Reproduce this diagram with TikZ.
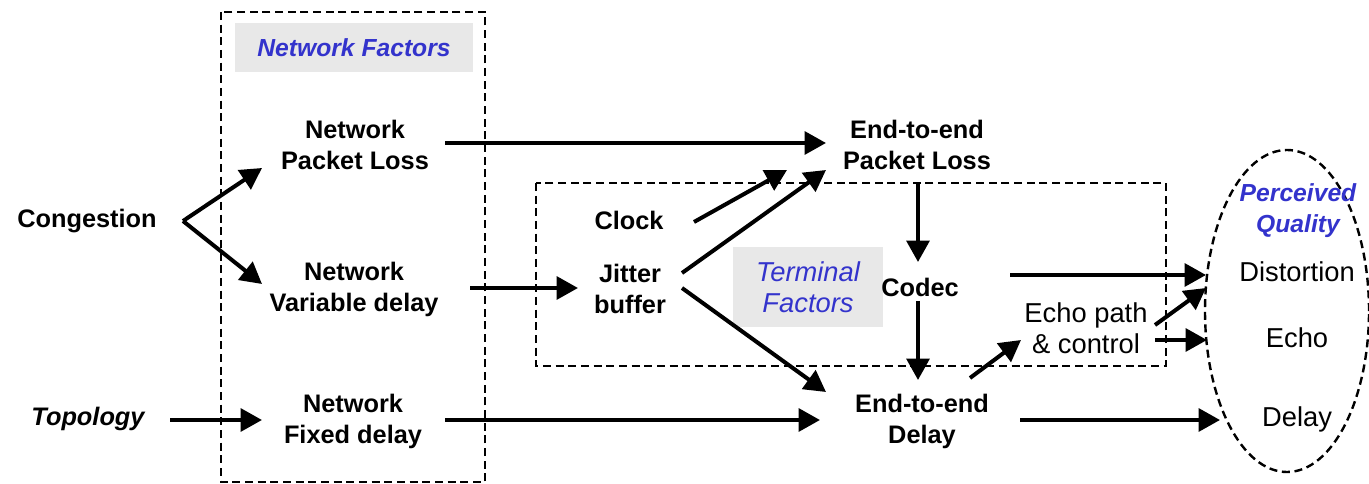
\documentclass[tikz,border=0pt]{standalone}
\usepackage{fontspec}
\setmainfont{Liberation Sans}
\usetikzlibrary{arrows.meta,calc,shapes.geometric}
\definecolor{qblue}{HTML}{3333CC}
\definecolor{lgray}{HTML}{E8E8E8}
\begin{document}
\begin{tikzpicture}[x=0.75pt,y=-0.75pt,
  lbl/.style={font=\bfseries\fontsize{19}{23.25}\selectfont, align=center, inner sep=0pt},
  rlbl/.style={font=\fontsize{20.5}{23.25}\selectfont, align=center, inner sep=0pt},
  arr/.style={line width=3pt, -{Triangle[length=16pt,width=17pt]}},
  dbox/.style={draw, line width=1.8pt, dash pattern=on 6pt off 3.5pt},
  factbox/.style={fill=lgray, text=qblue, font=\itshape\fontsize{20.5}{23.25}\selectfont, align=center, inner sep=0pt}
]
\useasboundingbox (0,0) rectangle (1369,484);
% dashed groups
\draw[dbox] (221,12) rectangle (485,482);
\draw[dbox] (536,183) rectangle (1166,366);
\node[ellipse, dbox, minimum width=123pt, minimum height=241.5pt, inner sep=0pt] (pqell) at (1287,311) {};
% factor labels
\node[factbox, font=\bfseries\itshape\fontsize{18.5}{23.25}\selectfont, minimum width=178.5pt, minimum height=37pt] (nf) at (354,47.5) {Network Factors};
\node[factbox, minimum width=112.5pt, minimum height=60pt] (tf) at (808,287) {Terminal\\Factors};
% nodes
\node[lbl] (cong) at (87,221) {Congestion};
\node[lbl, font=\bfseries\itshape\fontsize{19}{23.25}\selectfont] (topo) at (88,419) {Topology};
\node[lbl] (npl) at (355,145) {Network\\Packet Loss};
\node[lbl] (nvd) at (354,289) {Network\\Variable delay};
\node[lbl] (nfd) at (353,421) {Network\\Fixed delay};
\node[lbl] (epl) at (917,145) {End-to-end\\Packet Loss};
\node[lbl] (clk) at (629,220) {Clock};
\node[lbl] (jit) at (630,289) {Jitter\\buffer};
\node[lbl] (codec) at (920,287) {Codec};
\node[lbl] (edel) at (922,421) {End-to-end\\Delay};
\node[rlbl] (echo) at (1086,328) {Echo path\\\& control};
\node[lbl, text=qblue, font=\bfseries\itshape\fontsize{18.5}{23.25}\selectfont] (pq) at (1298,211) {Perceived\\Quality};
\node[rlbl] (dist) at (1297,272) {Distortion};
\node[rlbl] (ech) at (1297,338) {Echo};
\node[rlbl] (dly) at (1297,419) {Delay};
% connectors
\coordinate (cv) at ($(cong)+(96,0)$);
\draw[arr] (cv) -- ($(npl)+(-93,23)$);
\draw[arr] (cv) -- ($(nvd)+(-92,-5)$);
\draw[arr] ($(topo)+(82,1)$) -- ($(nfd)+(-91,-1)$);
\draw[arr] ($(npl)+(90,-2)$) -- ($(epl)+(-91,-2)$);
\draw[arr] ($(nvd)+(116,-1)$) -- ($(jit)+(-52,-1)$);
\draw[arr] ($(nfd)+(92,-1)$) -- ($(edel)+(-102,-1)$);
\draw[arr] ($(clk)+(65,2)$) -- ($(epl)+(-130,25)$);
\draw[arr] ($(jit)+(52,-16)$) -- ($(epl)+(-91,25)$);
\draw[arr] ($(jit)+(52,-1)$) -- ($(edel)+(-96,-29)$);
\draw[arr] ($(epl)+(1,38)$) -- ($(codec)+(-2,-25)$);
\draw[arr] ($(codec)+(-2,14)$) -- ($(edel)+(-4,-41)$);
\draw[arr] ($(edel)+(48,-43)$) -- ($(echo)+(-65,12)$);
\draw[arr] ($(codec)+(90,-12)$) -- ($(dist)+(-91,3)$);
\draw[arr] ($(echo)+(69,-3)$) -- ($(dist)+(-91,16)$);
\draw[arr] ($(echo)+(69,12)$) -- ($(ech)+(-90,2)$);
\draw[arr] ($(edel)+(98,-1)$) -- ($(dly)+(-77,1)$);
\end{tikzpicture}
\end{document}
